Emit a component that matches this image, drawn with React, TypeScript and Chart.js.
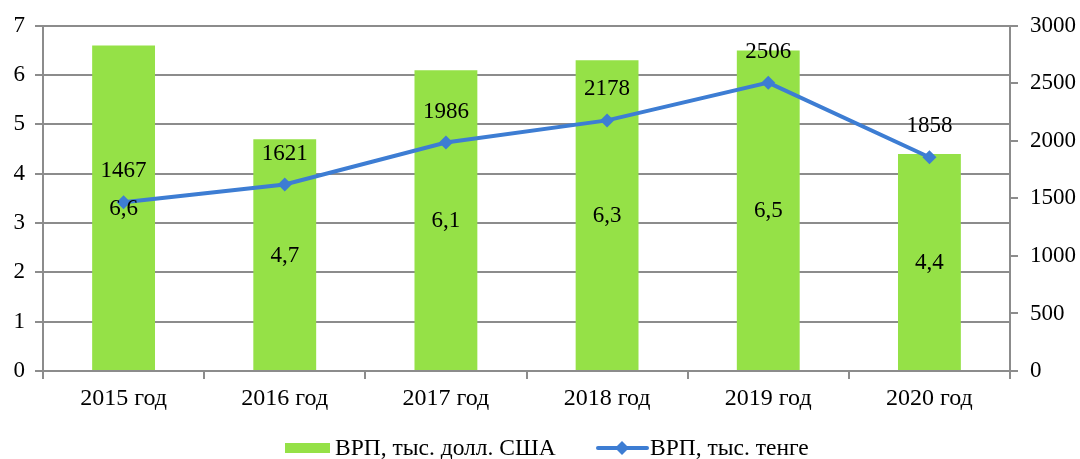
import React, { useEffect, useRef } from "react";
import { Chart, registerables } from "chart.js";

Chart.register(...registerables);

const categories = ["2015 год", "2016 год", "2017 год", "2018 год", "2019 год", "2020 год"];
const usdValues = [6.6, 4.7, 6.1, 6.3, 6.5, 4.4];
const tengeValues = [1467, 1621, 1986, 2178, 2506, 1858];
const usdLabel = "ВРП, тыс. долл. США";
const tengeLabel = "ВРП, тыс. тенге";

const GREEN = "#95E147";
const BLUE = "#3D7DD3";
const GRID = "#8C8C8C";
const FONT = "'Liberation Serif', 'Times New Roman', serif";

export default function App() {
  const ref = useRef<HTMLCanvasElement | null>(null);
  useEffect(() => {
    if (!ref.current) return;
    const labelPlugin = {
      id: "labels",
      afterDatasetsDraw(chart: any) {
        const ctx = chart.ctx;
        ctx.save();
        ctx.fillStyle = "#000";
        ctx.font = `23px ${FONT}`;
        ctx.textAlign = "center";
        ctx.textBaseline = "middle";
        const barMeta = chart.getDatasetMeta(0);
        barMeta.data.forEach((el: any, i: number) => {
          const y = (el.y + el.base) / 2 + 1;
          ctx.fillText(String(usdValues[i]).replace(".", ","), el.x, y);
        });
        const lineMeta = chart.getDatasetMeta(1);
        lineMeta.data.forEach((el: any, i: number) => {
          ctx.fillText(String(tengeValues[i]), el.x, el.y - 31);
        });
        // legend
        ctx.font = `23.5px ${FONT}`;
        ctx.textAlign = "left";
        const ly = 448;
        ctx.fillStyle = GREEN;
        ctx.fillRect(285, ly - 5, 45, 10);
        ctx.fillStyle = "#000";
        ctx.fillText(usdLabel, 335, ly + 1);
        ctx.strokeStyle = BLUE;
        ctx.lineWidth = 4;
        ctx.lineCap = "round";
        ctx.beginPath();
        ctx.moveTo(598, ly);
        ctx.lineTo(647, ly);
        ctx.stroke();
        ctx.fillStyle = BLUE;
        ctx.beginPath();
        ctx.moveTo(622, ly - 7);
        ctx.lineTo(629, ly);
        ctx.lineTo(622, ly + 7);
        ctx.lineTo(615, ly);
        ctx.closePath();
        ctx.fill();
        ctx.fillStyle = "#000";
        ctx.fillText(tengeLabel, 650, ly + 1);
        ctx.restore();
      },
    };
    const chart = new Chart(ref.current, {
      type: "bar",
      data: {
        labels: categories,
        datasets: [
          {
            type: "bar",
            label: usdLabel,
            data: usdValues,
            backgroundColor: GREEN,
            yAxisID: "y",
            barPercentage: 0.39,
            categoryPercentage: 1,
            order: 2,
          },
          {
            type: "line",
            label: tengeLabel,
            data: tengeValues,
            borderColor: BLUE,
            backgroundColor: BLUE,
            borderWidth: 4,
            pointStyle: "rectRot",
            pointRadius: 7,
            pointBorderWidth: 0,
            yAxisID: "y1",
            order: 1,
          } as any,
        ],
      },
      options: {
        animation: false,
        responsive: false,
        layout: { padding: { top: 20, bottom: 0, left: 0, right: 0 } },
        plugins: { legend: { display: false }, tooltip: { enabled: false } },
        scales: {
          x: {
            grid: { display: true, drawOnChartArea: false, color: GRID, lineWidth: 2, tickLength: 8, offset: true },
            border: { color: GRID, width: 2 },
            ticks: { color: "#000", font: { family: FONT, size: 24 }, padding: 5 },
            afterFit(scale: any) {
              scale.height = 88;
            },
          },
          y: {
            position: "left",
            min: 0,
            max: 7,
            ticks: { stepSize: 1, color: "#000", font: { family: FONT, size: 23 }, padding: 10 },
            grid: { color: GRID, lineWidth: 2, tickLength: 8 },
            border: { color: GRID, width: 2 },
            afterFit(scale: any) {
              scale.width = 43;
            },
          },
          y1: {
            position: "right",
            min: 0,
            max: 3000,
            ticks: {
              stepSize: 500,
              color: "#000",
              font: { family: FONT, size: 23 },
              padding: 12,
              callback: (v: any) => String(v),
            },
            grid: { drawOnChartArea: false, color: GRID, lineWidth: 2, tickLength: 8 },
            border: { color: GRID, width: 2 },
            afterFit(scale: any) {
              scale.width = 70;
            },
          },
        },
      },
      plugins: [labelPlugin],
    });
    return () => chart.destroy();
  }, []);
  return (
    <div style={{ position: "fixed", left: 0, top: 0, width: 1080, height: 459, background: "#fff" }}>
      <canvas ref={ref} width={1080} height={459} style={{ width: 1080, height: 459 }} />
    </div>
  );
}
